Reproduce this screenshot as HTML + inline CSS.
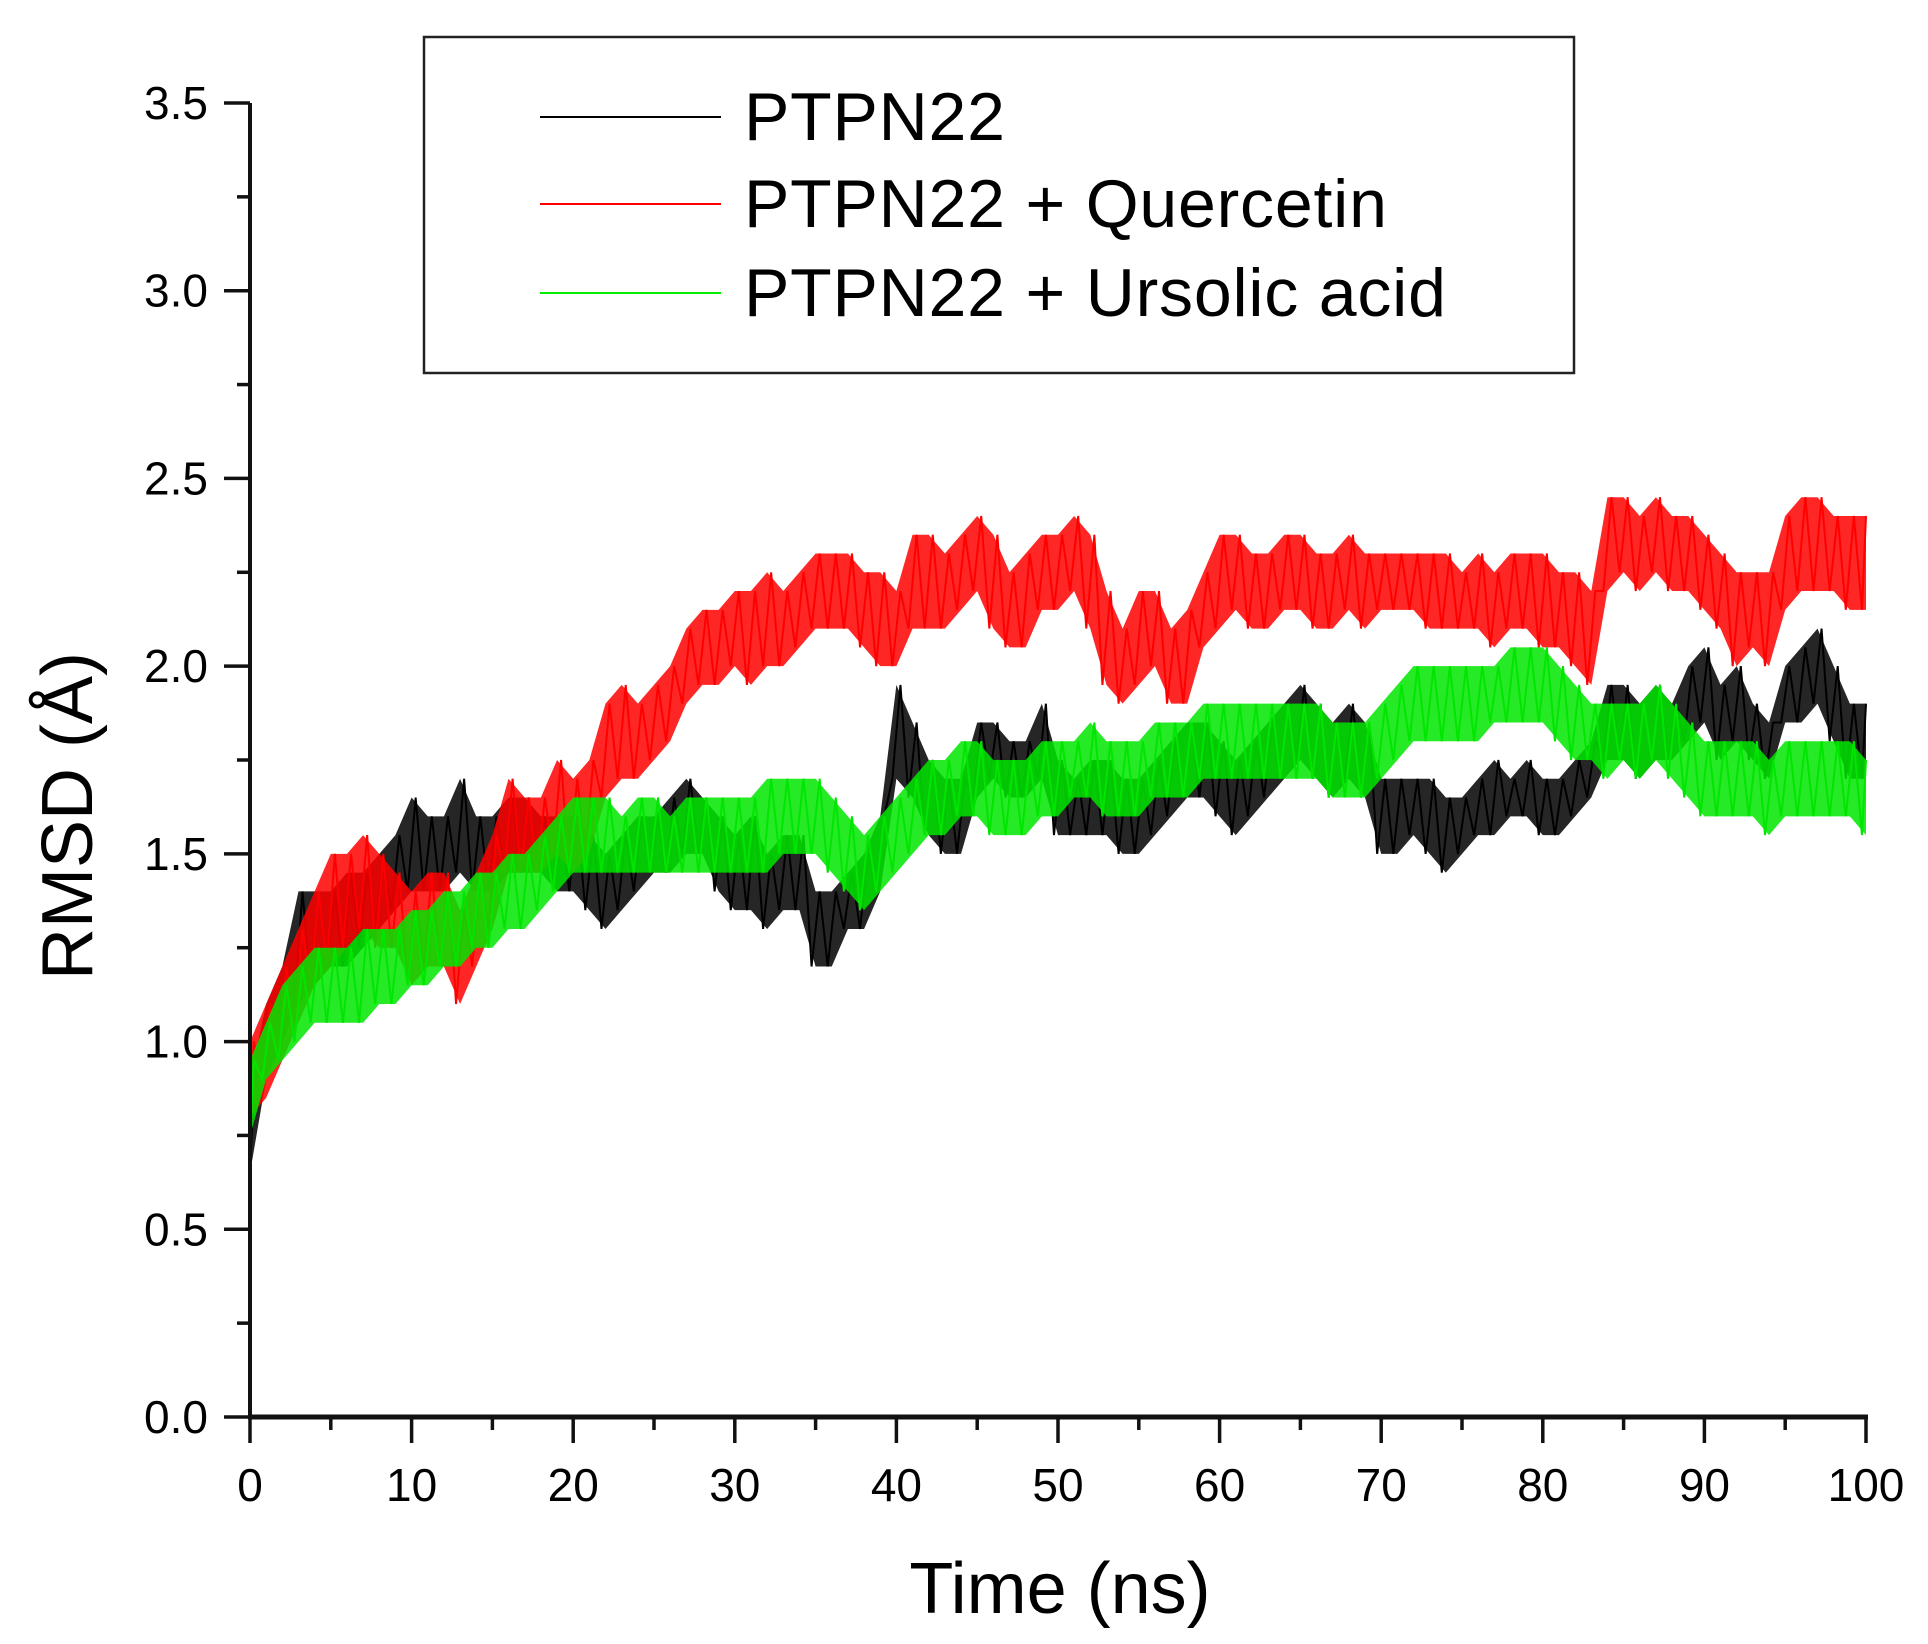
<!DOCTYPE html>
<html><head><meta charset="utf-8"><style>
html,body{margin:0;padding:0;background:#fff}
svg{display:block}
text{font-family:"Liberation Sans",sans-serif;fill:#000}
</style></head><body>
<svg id="chart" width="1928" height="1644" viewBox="0 0 1928 1644" xmlns="http://www.w3.org/2000/svg">
<g id="series"></g>
<g id="axes"></g>
<text x="1060" y="1613" font-size="72" text-anchor="middle">Time (ns)</text>
<text transform="translate(92,816) rotate(-90)" font-size="72" text-anchor="middle">RMSD (Å)</text>
<g>
<rect x="424" y="37" width="1150" height="336" fill="#fff" stroke="#222" stroke-width="2.5"/>
<line x1="540" y1="117" x2="721" y2="117" stroke="#000" stroke-width="2"/>
<text x="744" y="140" font-size="68" letter-spacing="0.8">PTPN22</text>
<line x1="540" y1="204" x2="721" y2="204" stroke="#ff0000" stroke-width="2"/>
<text x="744" y="227" font-size="68" letter-spacing="0.8">PTPN22 + Quercetin</text>
<line x1="540" y1="293" x2="721" y2="293" stroke="#00ee00" stroke-width="2"/>
<text x="744" y="316" font-size="68" letter-spacing="0.8">PTPN22 + Ursolic acid</text>
</g>
</svg>
<script>
const xTicks=[0,10,20,30,40,50,60,70,80,90,100];
const yTicks=[0.0,0.5,1.0,1.5,2.0,2.5,3.0,3.5];
const blackLo=[0.65,0.9,1.0,1.1,1.15,1.2,1.2,1.25,1.3,1.35,1.4,1.4,1.4,1.45,1.4,1.4,1.45,1.45,1.45,1.4,1.4,1.35,1.3,1.35,1.4,1.45,1.45,1.5,1.5,1.4,1.35,1.35,1.3,1.35,1.35,1.2,1.2,1.3,1.3,1.4,1.7,1.65,1.55,1.5,1.5,1.65,1.7,1.65,1.65,1.7,1.55,1.55,1.55,1.55,1.5,1.5,1.55,1.6,1.65,1.65,1.6,1.55,1.6,1.65,1.7,1.75,1.7,1.65,1.7,1.65,1.5,1.5,1.55,1.5,1.45,1.5,1.55,1.55,1.6,1.6,1.55,1.55,1.6,1.65,1.75,1.75,1.7,1.75,1.75,1.8,1.85,1.75,1.8,1.75,1.7,1.85,1.85,1.9,1.8,1.7,1.7];
const blackHi=[0.9,1.1,1.2,1.4,1.4,1.4,1.45,1.45,1.5,1.55,1.65,1.6,1.6,1.7,1.6,1.6,1.65,1.65,1.6,1.6,1.6,1.55,1.5,1.55,1.6,1.6,1.65,1.7,1.65,1.6,1.55,1.6,1.5,1.55,1.55,1.4,1.4,1.45,1.5,1.6,1.95,1.85,1.75,1.7,1.7,1.85,1.85,1.8,1.8,1.9,1.75,1.7,1.75,1.75,1.7,1.7,1.75,1.8,1.85,1.85,1.8,1.75,1.8,1.85,1.9,1.95,1.9,1.85,1.9,1.85,1.7,1.7,1.7,1.7,1.65,1.65,1.7,1.75,1.7,1.75,1.7,1.7,1.75,1.8,1.95,1.95,1.9,1.95,1.9,2.0,2.05,1.95,2.0,1.9,1.85,2.0,2.05,2.1,2.0,1.9,1.9];
const redLo=[0.8,0.85,0.95,1.05,1.15,1.2,1.25,1.3,1.25,1.25,1.15,1.2,1.2,1.1,1.2,1.3,1.45,1.45,1.45,1.5,1.45,1.5,1.65,1.7,1.7,1.75,1.8,1.9,1.95,1.95,2.0,1.95,2.0,2.0,2.05,2.1,2.1,2.1,2.05,2.0,2.0,2.1,2.1,2.1,2.15,2.2,2.1,2.05,2.05,2.15,2.15,2.2,2.1,1.95,1.9,1.95,2.0,1.9,1.9,2.05,2.1,2.15,2.1,2.1,2.15,2.15,2.1,2.1,2.15,2.1,2.15,2.15,2.15,2.1,2.1,2.1,2.1,2.05,2.1,2.1,2.05,2.05,2.0,1.95,2.2,2.25,2.2,2.25,2.2,2.2,2.15,2.1,2.0,2.05,2.0,2.15,2.2,2.2,2.2,2.15,2.15];
const redHi=[1.0,1.1,1.2,1.3,1.4,1.5,1.5,1.55,1.5,1.45,1.4,1.45,1.45,1.35,1.45,1.55,1.7,1.65,1.65,1.75,1.7,1.75,1.9,1.95,1.9,1.95,2.0,2.1,2.15,2.15,2.2,2.2,2.25,2.2,2.25,2.3,2.3,2.3,2.25,2.25,2.2,2.35,2.35,2.3,2.35,2.4,2.35,2.25,2.3,2.35,2.35,2.4,2.35,2.2,2.1,2.2,2.2,2.1,2.15,2.25,2.35,2.35,2.3,2.3,2.35,2.35,2.3,2.3,2.35,2.3,2.3,2.3,2.3,2.3,2.3,2.25,2.3,2.25,2.3,2.3,2.3,2.25,2.25,2.2,2.45,2.45,2.4,2.45,2.4,2.4,2.35,2.3,2.25,2.25,2.25,2.4,2.45,2.45,2.4,2.4,2.4];
const greenLo=[0.75,0.9,0.95,1.0,1.05,1.05,1.05,1.05,1.1,1.1,1.15,1.15,1.2,1.2,1.25,1.25,1.3,1.3,1.35,1.4,1.45,1.45,1.45,1.45,1.45,1.45,1.45,1.45,1.45,1.45,1.45,1.45,1.45,1.5,1.5,1.5,1.45,1.4,1.35,1.4,1.45,1.5,1.55,1.55,1.6,1.6,1.55,1.55,1.55,1.6,1.6,1.65,1.65,1.6,1.6,1.6,1.65,1.65,1.65,1.7,1.7,1.7,1.7,1.7,1.7,1.7,1.7,1.65,1.65,1.65,1.7,1.75,1.8,1.8,1.8,1.8,1.8,1.85,1.85,1.85,1.85,1.8,1.75,1.75,1.7,1.75,1.7,1.75,1.7,1.65,1.6,1.6,1.6,1.6,1.55,1.6,1.6,1.6,1.6,1.6,1.55];
const greenHi=[0.95,1.05,1.15,1.2,1.25,1.25,1.25,1.3,1.3,1.3,1.35,1.35,1.4,1.4,1.45,1.45,1.5,1.5,1.55,1.6,1.65,1.65,1.65,1.6,1.65,1.65,1.6,1.65,1.65,1.65,1.65,1.65,1.7,1.7,1.7,1.7,1.65,1.6,1.55,1.6,1.65,1.7,1.75,1.75,1.8,1.8,1.75,1.75,1.75,1.8,1.8,1.8,1.85,1.8,1.8,1.8,1.85,1.85,1.85,1.9,1.9,1.9,1.9,1.9,1.9,1.9,1.9,1.85,1.85,1.85,1.9,1.95,2.0,2.0,2.0,2.0,2.0,2.0,2.05,2.05,2.05,2.0,1.95,1.9,1.9,1.9,1.9,1.95,1.9,1.85,1.8,1.8,1.8,1.8,1.75,1.8,1.8,1.8,1.8,1.8,1.75];
const X0=250,X1=1866,Y0=1417,Y1=103;
function xs(t){return X0+(X1-X0)*t/100;}
function ys(v){return Y0-(Y0-Y1)*v/3.5;}
const NS='http://www.w3.org/2000/svg';
const sg=document.getElementById('series');
function drawSeries(lo,hi,color,name){
  const n=lo.length, step=100/(n-1);
  let band='';
  for(let i=0;i<n;i++) band+=xs(i*step)+','+ys(hi[i])+' ';
  for(let i=n-1;i>=0;i--) band+=xs(i*step)+','+ys(lo[i])+' ';
  const pg=document.createElementNS(NS,'polygon');
  pg.setAttribute('points',band);pg.setAttribute('fill',color);pg.setAttribute('opacity','0.85');
  
  
  sg.appendChild(pg);
  let d='M'+xs(0)+','+ys(0);
  for(let i=0;i<n;i++){
    const t=i*step;
    d+=' L'+xs(Math.max(0,t-step*0.25))+','+ys(lo[i])+' L'+xs(Math.min(100,t+step*0.25))+','+ys(hi[i]);
  }
  const p=document.createElementNS(NS,'path');
  p.setAttribute('d',d);p.setAttribute('fill','none');p.setAttribute('stroke',color);p.setAttribute('stroke-width','2');
  
  
  sg.appendChild(p);
}
drawSeries(blackLo,blackHi,'#000000','series-ptpn22');
drawSeries(redLo,redHi,'#ff0000','series-quercetin');
drawSeries(greenLo,greenHi,'#00e600','series-ursolic');
const ax=document.getElementById('axes');
function line(x1,y1,x2,y2,w,name){
  const l=document.createElementNS(NS,'line');
  l.setAttribute('x1',x1);l.setAttribute('y1',y1);l.setAttribute('x2',x2);l.setAttribute('y2',y2);
  l.setAttribute('stroke','#111');l.setAttribute('stroke-width',w);
  
  
  ax.appendChild(l);
}
function text(x,y,s,anchor,name){
  const t=document.createElementNS(NS,'text');
  t.setAttribute('x',x);t.setAttribute('y',y);t.setAttribute('font-size','46');t.setAttribute('text-anchor',anchor);
  t.textContent=s;
  
  
  ax.appendChild(t);
}
line(X0,Y1,X0,Y0+2,4,'y-axis-line');
line(X0-2,Y0,X1+2,Y0,5,'x-axis-line');
for(let i=0;i<xTicks.length;i++){
  const x=xs(xTicks[i]);
  line(x,Y0,x,Y0+26,3.5,'x-tick');
  text(x,1501,String(xTicks[i]),'middle','x-tick-label');
  if(i<xTicks.length-1){const xm=xs(xTicks[i]+5);line(xm,Y0,xm,Y0+13,3.5,'x-minor-tick');}
}
for(let i=0;i<yTicks.length;i++){
  const y=ys(yTicks[i]);
  line(X0-26,y,X0,y,3.5,'y-tick');
  text(208,y+16,yTicks[i].toFixed(1),'end','y-tick-label');
  if(i<yTicks.length-1){const ym=ys(yTicks[i]+0.25);line(X0-13,ym,X0,ym,3.5,'y-minor-tick');}
}
</script>
</body></html>
